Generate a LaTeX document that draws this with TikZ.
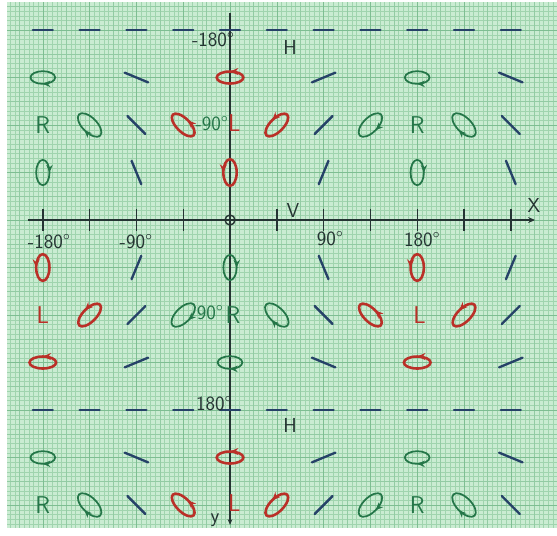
\documentclass[tikz,border=0pt]{standalone}
\usepackage{tikz}
\usetikzlibrary{
	arrows.meta,
	decorations.markings
}
\definecolor{PaperGreen}{RGB}{202,236,210}
\definecolor{GridFine}{RGB}{160,212,174}
\definecolor{GridMajor}{RGB}{126,190,146}
\definecolor{InkBlue}{RGB}{38,66,104}
\definecolor{InkGreen}{RGB}{36,118,72}
\definecolor{InkRed}{RGB}{186,48,40}
\definecolor{InkDark}{RGB}{36,52,50}

\begin{document}
\begin{tikzpicture}[x=1.404cm, y=1.425cm, font=\sffamily,
		axis/.style={draw=InkDark, line width=1.2pt},
		pline/.style={draw=InkBlue, line width=2pt, line cap=round},
		rell/.style={color=InkRed, draw, line width=2.2pt, postaction={decorate},
			decoration={markings, mark=at position 0.25 with {\arrow{Stealth[length=7pt, width=6pt]}}}},
		gell/.style={color=InkGreen, draw, line width=1.5pt, postaction={decorate},
			decoration={markings, mark=at position 0.75 with {\arrowreversed{Stealth[length=6.5pt, width=5.5pt]}}}},
		deg/.style={text=InkDark, font=\sffamily\LARGE, inner sep=0pt},
		gdeg/.style={text=InkGreen, font=\sffamily\LARGE, inner sep=0pt},
		glbl/.style={text=InkGreen, font=\sffamily\huge, inner sep=0pt},
		rlbl/.style={text=InkRed, font=\sffamily\huge, inner sep=0pt}]
		\useasboundingbox (-4.915,-6.632) rectangle (6.987,4.632);
		% graph paper
		\fill[white] (-4.915,-6.632) rectangle (6.987,4.632);
		\fill[PaperGreen] (-4.765,-6.48) rectangle (6.987,4.59);
		\draw[GridFine, line width=0.25pt, step={(0.1,0.1)}] (-4.765,-6.48) grid (6.987,4.59);
		\draw[GridFine!60!GridMajor, line width=0.35pt, step={(0.5,0.5)}] (-4.765,-6.48) grid (6.987,4.59);
		\draw[GridMajor, line width=0.5pt, step={(1,1)}] (-4.765,-6.48) grid (6.987,4.59);
		% axes
		\coordinate (O) at (0,0);
		\coordinate (Xs) at (-4.32,0);
		\coordinate (Xe) at (6.52,0);
		\coordinate (Ys) at (0,4.36);
		\coordinate (Ye) at (0,-6.42);
		\draw[axis, -{Stealth[length=6pt, width=5pt]}] (Xs) -- (Xe);
		\draw[axis, -{Stealth[length=5pt, width=4pt]}] (Ys) -- (Ye);
		\foreach \i in {-4,-3,-2,-1,1,2,3,4,5,6}
			\draw[axis] (\i,0.24) -- (\i,-0.24);
		\draw[axis] (O) circle (0.15cm);
		\node[deg] (xm180) at (-3.868,-0.463) {-180\textdegree};
		\node[deg] (xm90) at (-2.009,-0.463) {-90\textdegree};
		\node[deg] (xp90) at (2.137,-0.4) {90\textdegree};
		\node[deg] (xp180) at (4.103,-0.421) {180\textdegree};
		\node[deg] (vlbl) at (1.346,0.211) {V};
		\node[deg] (xlbl) at (6.496,0.316) {X};
		\node[deg] (ylbl) at (-0.321,-6.316) {y};
		% horizontal rows
		\foreach \r in {4,-4}
			\foreach \i in {-4,...,6}
				\draw[pline] (\i,\r) ++(0:0.3cm) -- ++(180:0.6cm);
		\node[deg] (ym180) at (-0.363,3.789) {-180\textdegree};
		\node[deg] (hTop) at (1.282,3.642) {H};
		\node[deg] (yp180) at (-0.342,-3.874) {180\textdegree};
		\node[deg] (hBot) at (1.282,-4.316) {H};
		% rows next to H
		\foreach \r in {3,-5} {
			\draw[gell] (-4,\r) ellipse (0.37cm and 0.19cm);
			\draw[pline] (-2,\r) ++(-22.5:0.38cm) -- ++(157.5:0.76cm);
			\draw[rell] (0,\r) ellipse (0.4cm and 0.18cm);
			\draw[pline] (2,\r) ++(22.5:0.38cm) -- ++(202.5:0.76cm);
			\draw[gell] (4,\r) ellipse (0.37cm and 0.19cm);
			\draw[pline] (6,\r) ++(-22.5:0.38cm) -- ++(157.5:0.76cm);
		}
		\foreach \r in {-3} {
			\draw[rell] (-4,\r) ellipse (0.4cm and 0.18cm);
			\draw[pline] (-2,\r) ++(22.5:0.38cm) -- ++(202.5:0.76cm);
			\draw[gell] (0,\r) ellipse (0.37cm and 0.19cm);
			\draw[pline] (2,\r) ++(-22.5:0.38cm) -- ++(157.5:0.76cm);
			\draw[rell] (4,\r) ellipse (0.4cm and 0.18cm);
			\draw[pline] (6,\r) ++(22.5:0.38cm) -- ++(202.5:0.76cm);
		}
		% R rows
		\foreach \r in {2,-6} {
			\node[glbl] (rA\r) at (-4,\r) {R};
			\draw[gell, rotate around={-45:(-3,\r)}] (-3,\r) ellipse (0.45cm and 0.22cm);
			\draw[pline] (-2,\r) ++(-45:0.38cm) -- ++(135:0.76cm);
			\draw[rell, rotate around={-45:(-1,\r)}] (-1,\r) ellipse (0.44cm and 0.2cm);
			\node[rlbl] (lC\r) at (0.09,\r+0.04) {L};
			\draw[rell, rotate around={45:(1,\r)}] (1,\r) ellipse (0.44cm and 0.2cm);
			\draw[pline] (2,\r) ++(45:0.38cm) -- ++(225:0.76cm);
			\draw[gell, rotate around={45:(3,\r)}] (3,\r) ellipse (0.45cm and 0.22cm);
			\node[glbl] (rB\r) at (4,\r) {R};
			\draw[gell, rotate around={-45:(5,\r)}] (5,\r) ellipse (0.45cm and 0.22cm);
			\draw[pline] (6,\r) ++(-45:0.38cm) -- ++(135:0.76cm);
		}
		\node[gdeg] (m90) at (-0.39,2.021) {-90\textdegree};
		% L row
		\node[rlbl] (lA) at (-4,-2) {L};
		\draw[rell, rotate around={45:(-3,-2)}] (-3,-2) ellipse (0.44cm and 0.2cm);
		\draw[pline] (-2,-2) ++(45:0.38cm) -- ++(225:0.76cm);
		\draw[gell, rotate around={45:(-1,-2)}] (-1,-2) ellipse (0.45cm and 0.22cm);
		\node[gdeg] (p90) at (-0.427,-1.958) {90\textdegree};
		\node[glbl] (rC) at (0.064,-2) {R};
		\draw[gell, rotate around={-45:(1,-2)}] (1,-2) ellipse (0.45cm and 0.22cm);
		\draw[pline] (2,-2) ++(-45:0.38cm) -- ++(135:0.76cm);
		\draw[rell, rotate around={-45:(3,-2)}] (3,-2) ellipse (0.44cm and 0.2cm);
		\node[rlbl] (lB) at (4.05,-2) {L};
		\draw[rell, rotate around={45:(5,-2)}] (5,-2) ellipse (0.44cm and 0.2cm);
		\draw[pline] (6,-2) ++(45:0.38cm) -- ++(225:0.76cm);
		% rows next to the X axis
		\draw[gell, rotate around={90:(-4,1)}] (-4,1) ellipse (0.38cm and 0.2cm);
		\draw[pline] (-2,1) ++(-67.5:0.38cm) -- ++(112.5:0.76cm);
		\draw[rell, rotate around={90:(0,1)}] (0,1) ellipse (0.4cm and 0.2cm);
		\draw[pline] (2,1) ++(67.5:0.38cm) -- ++(247.5:0.76cm);
		\draw[gell, rotate around={90:(4,1)}] (4,1) ellipse (0.38cm and 0.2cm);
		\draw[pline] (6,1) ++(-67.5:0.38cm) -- ++(112.5:0.76cm);
		\draw[rell, rotate around={90:(-4,-1)}] (-4,-1) ellipse (0.4cm and 0.2cm);
		\draw[pline] (-2,-1) ++(67.5:0.38cm) -- ++(247.5:0.76cm);
		\draw[gell, rotate around={90:(0,-1)}] (0,-1) ellipse (0.38cm and 0.2cm);
		\draw[pline] (2,-1) ++(-67.5:0.38cm) -- ++(112.5:0.76cm);
		\draw[rell, rotate around={90:(4,-1)}] (4,-1) ellipse (0.4cm and 0.2cm);
		\draw[pline] (6,-1) ++(67.5:0.38cm) -- ++(247.5:0.76cm);
	\end{tikzpicture}
\end{document}
